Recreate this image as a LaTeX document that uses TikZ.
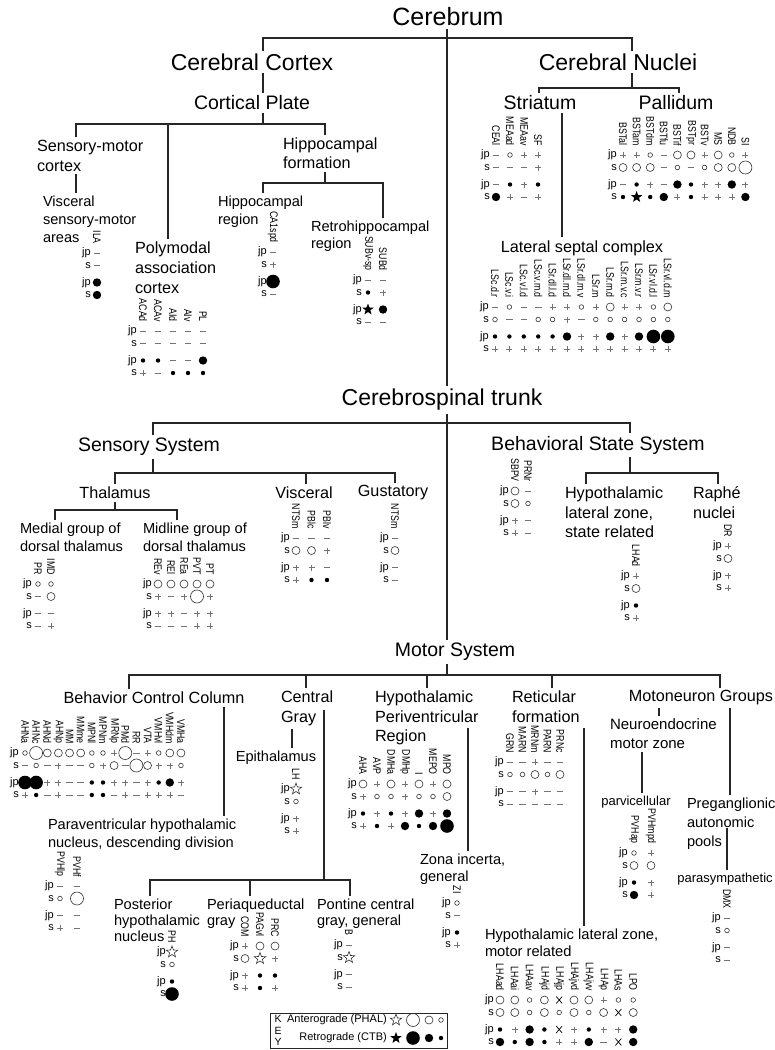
\documentclass[tikz,border=0pt]{standalone}
\usepackage{fontspec}
\setmainfont{Liberation Sans}
\newfontfamily\narrowfont[FakeStretch=0.8]{Liberation Sans}
\usetikzlibrary{shapes.geometric}
\tikzset{link/.style={draw=black!85,line width=1.1pt},
  hA/.style={font=\fontsize{25}{30}\selectfont,inner sep=0pt,outer sep=3pt},
  hB/.style={font=\fontsize{23}{28}\selectfont,inner sep=0pt,outer sep=3pt},
  hC/.style={font=\fontsize{19.5}{24}\selectfont,inner sep=0pt,outer sep=3pt},
  hD/.style={font=\fontsize{16.2}{20}\selectfont,align=left,inner sep=0pt,outer sep=3pt},
  hE/.style={font=\fontsize{14.6}{18}\selectfont,align=left,inner sep=0pt,outer sep=3pt},
  hF/.style={font=\fontsize{13}{16}\selectfont,inner sep=0pt,outer sep=3pt},
  collab/.style={font=\narrowfont\fontsize{11}{11}\selectfont,rotate=-90,anchor=east,inner sep=0pt},
  rowlab/.style={font=\fontsize{11}{11}\selectfont,anchor=east,inner sep=0pt},
  openmark/.style={draw=black!80,line width=0.6pt},
  signmark/.style={draw=black!55,line width=0.6pt},
  a1/.pic={\draw[openmark] (0,0) circle (2.3pt);},
  a2/.pic={\draw[openmark] (0,0) circle (4pt);},
  a3/.pic={\draw[openmark] (0,0) circle (6.5pt);},
  r1/.pic={\fill (0,0) circle (2.2pt);},
  r2/.pic={\fill (0,0) circle (4.2pt);},
  r3/.pic={\fill (0,0) circle (6.8pt);},
  as/.pic={\node[star,star points=5,star point ratio=2.4,openmark,inner sep=0pt,minimum size=12pt] {};},
  rs/.pic={\node[star,star points=5,star point ratio=2.4,fill=black,inner sep=0pt,minimum size=12pt] {};},
  pl/.pic={\draw[signmark] (-3,0) -- (3,0) (0,-3) -- (0,3);},
  mi/.pic={\draw[signmark] (-3.3,0) -- (3.3,0);},
  xx/.pic={\draw[line width=0.7pt] (-3,-3.5) -- (3,3.5) (-3,3.5) -- (3,-3.5);}}
\newcommand\datacols[5]{%
  \node[rowlab] (#1-jpa) at (#2-6,#4) {jp};
  \node[rowlab] (#1-sa) at (#2-6,#4+12.5) {s};
  \node[rowlab] (#1-jpb) at (#2-6,#4+29.5) {jp};
  \node[rowlab] (#1-sb) at (#2-6,#4+42) {s};
  \foreach \lab/\pa/\pb/\pc/\pd [count=\i from 0] in {#5}{
    \node[collab] (#1-\i) at (#2+\i*#3,#4-9) {\lab};
    \pic at (#2+\i*#3,#4) {\pa};
    \pic at (#2+\i*#3,#4+12.5) {\pb};
    \pic at (#2+\i*#3,#4+29.5) {\pc};
    \pic at (#2+\i*#3,#4+42) {\pd};
  }}

\begin{document}
\begin{tikzpicture}[x=1pt,y=-1pt]
  \useasboundingbox[fill=white] (0,0) rectangle (775,1050);

  \node[hA] (cerebrum) at (448,17) {Cerebrum};
  \node[hB] (cortex) at (252,62) {Cerebral Cortex};
  \node[hB] (nuclei) at (618,62) {Cerebral Nuclei};
  \node[hC] (plate) at (252,103) {Cortical Plate};
  \node[hC] (striatum) at (540,103) {Striatum};
  \node[hC] (pallidum) at (676,103) {Pallidum};
  \node[hD,anchor=north west] (smc) at (34,137) {Sensory-motor\\cortex};
  \node[hE,anchor=north west] (vsm) at (40,193) {Visceral\\sensory-motor\\areas};
  \node[hD,anchor=north west] (pac) at (132,239) {Polymodal\\association\\cortex};
  \node[hD,anchor=north west,font=\fontsize{16.2}{19}\selectfont] (hf) at (280,135) {Hippocampal\\formation};
  \node[hE,anchor=north west] (hr) at (215,193) {Hippocampal\\region};
  \node[hE,anchor=north west,font=\fontsize{14.6}{17}\selectfont] (rhr) at (308,218) {Retrohippocampal\\region};
  \node[hD] (lsc) at (582,248) {Lateral septal complex};

  \node[hB] (trunk) at (442,400) {Cerebrospinal trunk};
  \node[hC] (sensory) at (149,447) {Sensory System};
  \node[hC] (bss) at (598,445) {Behavioral State System};
  \node[hD] (thalamus) at (115,493) {Thalamus};
  \node[hD] (visceral) at (304,493) {Visceral};
  \node[hD] (gustatory) at (393,493) {Gustatory};
  \node[hE,anchor=north west] (mgdt) at (17,520) {Medial group of\\dorsal thalamus};
  \node[hE,anchor=north west] (lgdt) at (140,520) {Midline group of\\dorsal thalamus};
  \node[hD,anchor=north west,font=\fontsize{16.2}{19.5}\selectfont] (hlzs) at (562,484) {Hypothalamic\\lateral zone,\\state related};
  \node[hD,anchor=north west] (raphe) at (690,484) {Raphé\\nuclei};

  \node[hC] (motor) at (455,652) {Motor System};
  \node[hD] (bcc) at (154,698) {Behavior Control Column};
  \node[hD,anchor=north west] (cg) at (278,688) {Central\\Gray};
  \node[hD,anchor=north west,font=\fontsize{16.2}{19.5}\selectfont] (hpr) at (372,688) {Hypothalamic\\Periventricular\\Region};
  \node[hD,anchor=north west] (ret) at (509,688) {Reticular\\formation};
  \node[hD] (mng) at (701,698) {Motoneuron Groups};
  \node[hE,anchor=north west,font=\fontsize{15}{19}\selectfont] (nmz) at (607,716) {Neuroendocrine\\motor zone};
  \node[hE] (epith) at (276,758) {Epithalamus};
  \node[hF] (parvi) at (636,802) {parvicellular};
  \node[hE,anchor=north west,font=\fontsize{14.6}{19}\selectfont] (pgn) at (684,795) {Preganglionic\\autonomic\\pools};
  \node[hF] (parasym) at (725,879) {parasympathetic};
  \node[hE,anchor=north west] (pvh) at (45,816) {Paraventricular hypothalamic\\nucleus, descending division};
  \node[hE,anchor=north west,font=\fontsize{14.6}{17}\selectfont] (zi) at (417,851) {Zona incerta,\\general};
  \node[hE,anchor=north west,font=\fontsize{14.6}{16}\selectfont] (phn) at (111,896) {Posterior\\hypothalamic\\nucleus};
  \node[hE,anchor=north west,font=\fontsize{14.6}{16}\selectfont] (pag) at (204,896) {Periaqueductal\\gray};
  \node[hE,anchor=north west,font=\fontsize{14.6}{16}\selectfont] (pcg) at (314,896) {Pontine central\\gray, general};
  \node[hE,anchor=north west,font=\fontsize{14.7}{17}\selectfont] (hlzm) at (482,926) {Hypothalamic lateral zone,\\motor related};

  \coordinate (c1) at (263,38);
  \coordinate (n1) at (632,38);
  \coordinate (t1) at (447,38);
  \coordinate (p0) at (263,124);
  \coordinate (p1) at (76,124);
  \coordinate (p2) at (168,124);
  \coordinate (p3) at (325,124);
  \coordinate (h0) at (325,183);
  \coordinate (h1) at (263,183);
  \coordinate (h2) at (383,183);
  \coordinate (n2) at (632,88);
  \coordinate (n3) at (539,88);
  \coordinate (n4) at (679,88);
  \coordinate (s1) at (562,113);
  \coordinate (m0) at (447,423);
  \coordinate (m1) at (153,423);
  \coordinate (m2) at (630,423);
  \coordinate (q0) at (153,473);
  \coordinate (q1) at (115,473);
  \coordinate (q2) at (306,473);
  \coordinate (q3) at (395,473);
  \coordinate (d0) at (115,510);
  \coordinate (d1) at (55,510);
  \coordinate (d2) at (177,510);
  \coordinate (b0) at (630,473);
  \coordinate (b1) at (586,473);
  \coordinate (b2) at (718,473);
  \coordinate (k0) at (447,675);
  \coordinate (k1) at (129,675);
  \coordinate (k2) at (306,675);
  \coordinate (k3) at (427,675);
  \coordinate (k4) at (552,675);
  \coordinate (k5) at (720,675);
  \coordinate (v1) at (224,706);
  \coordinate (v2) at (292,729);
  \coordinate (v3) at (324,710);
  \coordinate (g0) at (324,880);
  \coordinate (g1) at (150,880);
  \coordinate (g2) at (250,880);
  \coordinate (g3) at (350,880);
  \coordinate (v4) at (468,728);
  \coordinate (v5) at (584,728);
  \coordinate (v6) at (659,708);
  \coordinate (v7) at (642,752);
  \coordinate (v8) at (730,708);
  \coordinate (v9) at (727,828);

  \draw[link] (cerebrum.south -| t1) -- (trunk.north -| t1);
  \draw[link] (cortex.north -| c1) -- (c1) -- (n1) -- (nuclei.north -| n1);
  \draw[link] (cortex.south -| c1) -- (plate.north -| c1);
  \draw[link] (plate.south -| p0) -- (p0);
  \draw[link] (smc.north -| p1) -- (p1) -- (p3) -- (hf.north -| p3);
  \draw[link] (p2) -- (pac.north -| p2);
  \draw[link] (smc.south -| p1) -- (vsm.north -| p1);
  \draw[link] (hf.south -| h0) -- (h0);
  \draw[link] (hr.north -| h1) -- (h1) -- (h2) -- (rhr.north -| h2);
  \draw[link] (nuclei.south -| n2) -- (n2);
  \draw[link] (striatum.north -| n3) -- (n3) -- (n4) -- (pallidum.north -| n4);
  \draw[link] (striatum.south -| s1) -- (lsc.north -| s1);
  \draw[link] (trunk.south -| m0) -- (motor.north -| m0);
  \draw[link] (sensory.north -| m1) -- (m1) -- (m2) -- (bss.north -| m2);
  \draw[link] (sensory.south -| q0) -- (q0);
  \draw[link] (thalamus.north -| q1) -- (q1) -- (q3) -- (gustatory.north -| q3);
  \draw[link] (q2) -- (visceral.north -| q2);
  \draw[link] (thalamus.south -| d0) -- (d0);
  \draw[link] (mgdt.north -| d1) -- (d1) -- (d2) -- (lgdt.north -| d2);
  \draw[link] (bss.south -| b0) -- (b0);
  \draw[link] (hlzs.north -| b1) -- (b1) -- (b2) -- (raphe.north -| b2);
  \draw[link] (motor.south -| k0) -- (k0);
  \draw[link] (bcc.north -| k1) -- (k1) -- (k5) -- (mng.north -| k5);
  \draw[link] (k2) -- (cg.north -| k2);
  \draw[link] (k3) -- (hpr.north -| k3);
  \draw[link] (k4) -- (ret.north -| k4);
  \draw[link] (bcc.south -| v1) -- (pvh.north -| v1);
  \draw[link] (cg.south -| v2) -- (epith.north -| v2);
  \draw[link] (v3) -- (g0);
  \draw[link] (phn.north -| g1) -- (g1) -- (g3) -- (pcg.north -| g3);
  \draw[link] (g2) -- (pag.north -| g2);
  \draw[link] (v4) -- (zi.north -| v4);
  \draw[link] (v5) -- (hlzm.north -| v5);
  \draw[link] (mng.south -| v6) -- (nmz.north -| v6);
  \draw[link] (nmz.south -| v7) -- (parvi.north -| v7);
  \draw[link] (mng.south -| v8) -- (pgn.north -| v8);
  \draw[link] (v9) -- (parasym.north -| v9);

  \datacols{ila}{97}{0}{253}{ILA/mi/mi/r2/r2}
  \datacols{pac}{143}{15}{331}{ACAd/mi/mi/r1/pl,ACAv/mi/mi/r1/mi,AId/mi/mi/mi/r1,AIv/mi/mi/mi/r1,PL/mi/mi/r2/r1}
  \datacols{ca}{273}{0}{252}{CA1spd/mi/pl/r3/mi}
  \datacols{sub}{368}{15}{280}{SUBv-sp/mi/r1/rs/mi,SUBd/mi/pl/r2/mi}
  \datacols{str}{496}{14}{155}{CEAl/mi/mi/mi/r2,MEAad/a1/mi/r1/pl,MEAav/pl/mi/pl/mi,SF/pl/pl/r1/pl}
  \datacols{pal}{623}{13.6}{155}{BSTal/pl/a2/mi/r1,BSTam/pl/a2/r1/rs,BSTdm/a1/a2/pl/r1,BSTfu/mi/mi/mi/r2,BSTif/a2/a1/r2/pl,BSTpr/a2/mi/r1/r1,BSTv/pl/a1/pl/pl,MS/a2/a2/pl/pl,NDB/a1/a2/r2/pl,SI/pl/a3/pl/r2}
  \datacols{ls}{495}{14.4}{307}{LSc.d.r/mi/a1/r1/pl,LSc.v.i/a1/mi/r1/pl,LSc.v.l.d/mi/mi/r1/pl,LSc.v.m.d/mi/a1/r1/pl,LSr.dl.l.d/pl/a1/r1/pl,LSr.dl.m.d/pl/pl/r2/pl,LSr.dl.m.v/a1/mi/pl/pl,LSr.m/pl/a1/pl/pl,LSr.m.d/a2/a1/r2/pl,LSr.m.v.c/pl/a1/pl/pl,LSr.m.v.r/pl/a1/r2/pl,LSr.vl.d.l/a1/a1/r3/pl,LSr.vl.d.m/a2/a1/r3/pl}
  \datacols{med}{38}{13}{584}{PR/a1/mi/mi/mi,IMD/a1/a2/mi/pl}
  \datacols{mid}{158}{13}{584}{REv/a2/pl/pl/mi,REl/a2/mi/pl/mi,REa/a2/pl/mi/mi,PVT/a2/a3/pl/pl,PT/a2/pl/pl/pl}
  \datacols{vis}{296}{15.5}{538}{NTSm/mi/a2/pl/pl,PBlc/mi/a2/pl/r1,PBlv/mi/pl/mi/r1}
  \datacols{gus}{395}{0}{538}{NTSm/mi/a2/mi/mi}
  \datacols{bsp}{515}{13}{491}{SBPV/a2/a2/pl/pl,PRNr/mi/a1/mi/mi}
  \datacols{lhd}{636}{0}{576}{LHAd/pl/a2/r1/pl}
  \datacols{dr}{728}{0}{546}{DR/pl/a2/pl/pl}
  \datacols{bc}{25}{11.14}{753}{AHNa/a1/mi/r3/pl,AHNc/a3/a1/r3/r1,AHNd/a2/mi/pl/mi,AHNp/a2/pl/pl/pl,MM/a2/mi/mi/mi,MMme/a2/mi/mi/mi,MPNl/a1/a1/r1/r1,MPNm/a1/pl/r1/r1,MRNp/pl/a2/pl/mi,PMd/a3/mi/pl/pl,RR/mi/a3/mi/mi,VTA/pl/a2/pl/pl,VMHvl/a1/pl/r1/pl,VMHdm/a2/pl/r2/pl,VMHa/a2/a1/pl/mi}
  \datacols{pvd}{60}{17}{886}{PVHlp/mi/a1/mi/pl,PVHf/mi/a3/mi/mi}
  \datacols{lh}{296}{0}{789}{LH/as/a1/pl/pl}
  \datacols{hp}{363}{14}{784}{AHA/a2/pl/r1/pl,AVP/pl/a1/pl/r1,DMHa/a2/a1/r1/pl,DMHp/pl/pl/pl/r2,I/a2/a1/r2/r1,MEPO/pl/a1/pl/r2,MPO/a2/a2/r2/r3}
  \datacols{rf}{510}{12.5}{762}{GRN/mi/a1/mi/mi,MARN/mi/a1/mi/mi,MRNm/pl/a2/pl/mi,PARN/mi/a1/mi/mi,PRNc/mi/a2/mi/mi}
  \datacols{zig}{457}{0}{903}{ZI/a1/mi/r1/pl}
  \datacols{ph}{172}{0}{952}{PH/as/a1/r1/r3}
  \datacols{pg}{245}{15}{946}{COM/pl/a2/pl/pl,PAGvl/a2/as/r1/r1,PRC/a2/pl/r1/pl}
  \datacols{bb}{349}{0}{945}{B/mi/as/mi/mi}
  \datacols{pvp}{634}{17}{853}{PVHap/a1/a2/r1/r2,PVHmpd/pl/a2/pl/pl}
  \datacols{dmx}{727}{0}{918}{DMX/mi/a1/mi/mi}
  \datacols{lz}{500}{14.8}{1000}{LHAad/a2/a2/r1/r2,LHAai/a2/a2/pl/r1,LHAav/a1/a1/r2/r2,LHAjd/a2/a2/r1/r1,LHAjp/xx/a1/xx/pl,LHAjvd/a2/a2/pl/pl,LHAjvv/a2/a1/r1/r2,LHAp/pl/a2/pl/mi,LHAs/a1/xx/pl/xx,LPO/a1/a2/r2/r2}

  \node[draw=black!85,line width=0.8pt,minimum width=177pt,minimum height=35pt,inner sep=0pt] (key) at (358.5,1030.5) {};
  \node[font=\fontsize{10.5}{11.5}\selectfont,align=center,inner sep=0pt] (keyword) at (278,1030.5) {K\\E\\Y};
  \node[font=\fontsize{11}{12}\selectfont,anchor=east,inner sep=0pt] (antero) at (387,1020) {Anterograde (PHAL)};
  \node[font=\fontsize{11}{12}\selectfont,anchor=east,inner sep=0pt] (retro) at (387,1038) {Retrograde (CTB)};
  \pic at (396,1020) {as};
  \pic at (413,1020) {a3};
  \pic at (429,1020) {a2};
  \pic at (441,1020) {a1};
  \pic at (396,1038) {rs};
  \pic at (413,1038) {r3};
  \pic at (429,1038) {r2};
  \pic at (441,1038) {r1};
\end{tikzpicture}
\end{document}
